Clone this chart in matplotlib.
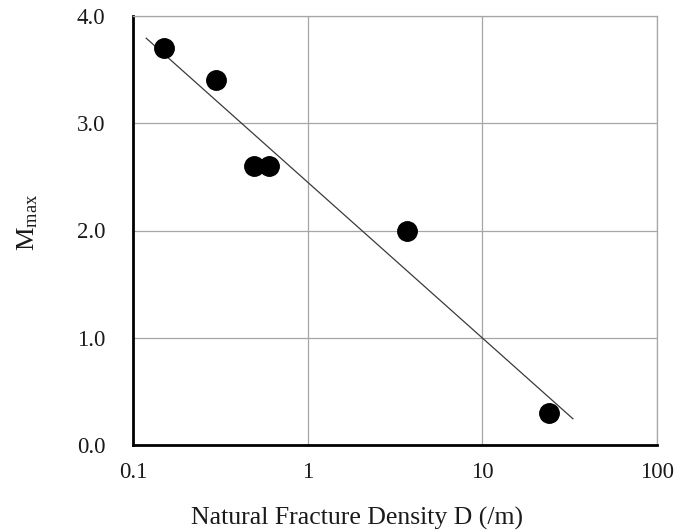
import numpy as np
import matplotlib
matplotlib.use("Agg")
import matplotlib.pyplot as plt

plt.rcParams['font.family'] = ['Liberation Serif', 'DejaVu Serif']
plt.rcParams['mathtext.fontset'] = 'custom'
plt.rcParams['mathtext.rm'] = 'Liberation Serif'
plt.rcParams['mathtext.it'] = 'Liberation Serif:italic'

# Data
density = [0.15, 0.30, 0.49, 0.60, 3.7, 24.0]
mmax = [3.7, 3.4, 2.6, 2.6, 2.0, 0.3]
fit_range = [0.119, 33.0]
xticks = [0.1, 1, 10, 100]
xtick_labels = ["0.1", "1", "10", "100"]
yticks = [0.0, 1.0, 2.0, 3.0, 4.0]
ytick_labels = ["0.0", "1.0", "2.0", "3.0", "4.0"]

fig = plt.figure(figsize=(6.74, 5.31), dpi=100)
ax = fig.add_axes([133/674, 1 - 445/531, (657-133)/674, (445-16)/531])

# log-linear regression trend line
coef = np.polyfit(np.log10(density), mmax, 1)
fx = np.array(fit_range)
ax.plot(fx, coef[0]*np.log10(fx) + coef[1], color='#3a3a3a', lw=0.9, zorder=3)

ax.plot(density, mmax, 'o', color='black', ms=14, zorder=4)

ax.set_xscale('log')
ax.set_xlim(0.1, 100)
ax.set_ylim(0, 4)
ax.set_xticks(xticks)
ax.set_xticklabels(xtick_labels)
ax.set_yticks(yticks)
ax.set_yticklabels(ytick_labels)
ax.minorticks_off()
ax.grid(True, color='#a6a6a6', lw=0.9, zorder=0)
ax.set_axisbelow(True)
ax.tick_params(length=0, labelsize=16.5, colors='#1a1a1a')
ax.tick_params(axis='x', pad=12.5)
ax.tick_params(axis='y', pad=20)

for s in ['top', 'right']:
    ax.spines[s].set_color('#a6a6a6')
    ax.spines[s].set_linewidth(0.9)
for s in ['left', 'bottom']:
    ax.spines[s].set_color('black')
    ax.spines[s].set_linewidth(2.0)

ax.set_xlabel("Natural Fracture Density D (/m)", fontsize=18.5, color='#1a1a1a')
ax.xaxis.set_label_coords(0.4275, -0.145)
ax.set_ylabel(r"M$_{\mathrm{max}}$", fontsize=19, color='#1a1a1a')
ax.yaxis.set_label_coords(-0.178, 0.52)

fig.savefig("out.png", dpi=100)
